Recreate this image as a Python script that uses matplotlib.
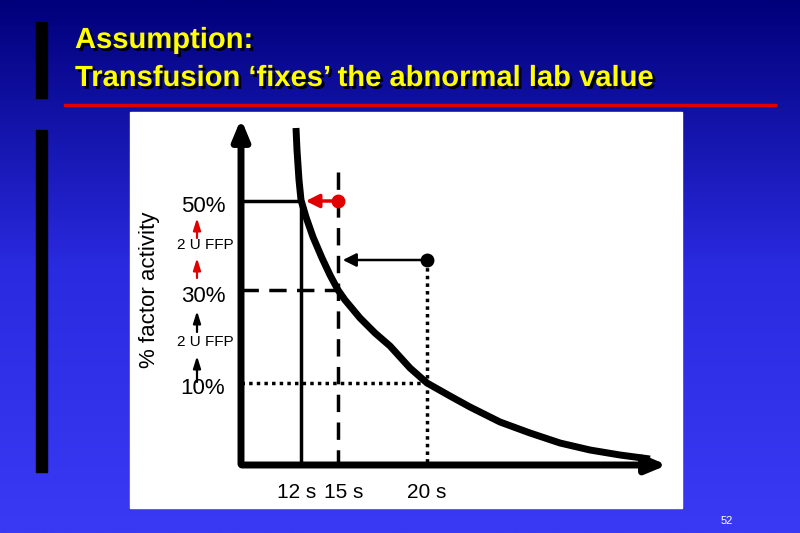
import numpy as np
import matplotlib
matplotlib.use("Agg")
import matplotlib.pyplot as plt
from matplotlib import patheffects as pe
from matplotlib.colors import LinearSegmentedColormap

plt.rcParams['font.family'] = ['Liberation Sans', 'DejaVu Sans']

title_lines = ["Assumption:", "Transfusion \u2018fixes\u2019 the abnormal lab value"]
# curve points (pixel coordinates)
curve_x = [296, 297, 299, 301, 306, 313, 322, 330, 338, 345, 360, 375, 390, 410, 427, 450, 470, 500, 530, 560, 590, 620, 650]
curve_y = [128, 150, 180, 200, 217, 237, 258, 275, 290, 300, 318, 333, 346, 368, 383, 396, 407, 422, 433, 443, 450, 455, 459]
tick_x = [301, 338, 427]
tick_labels = ["12 s", "15 s", "20 s"]
level_y = [201, 290, 383]
level_labels = ["50%", "30%", "10%"]

fig = plt.figure(figsize=(8, 5.33), dpi=100)
ax = fig.add_axes([0, 0, 1, 1])
ax.set_xlim(0, 800); ax.set_ylim(533, 0); ax.axis('off')

grad = np.linspace(0, 1, 256)[:, None]
cm = LinearSegmentedColormap.from_list('bg', ['#00007a', '#2a2ae0', '#3a3af5'])
ax.imshow(grad, extent=[0, 800, 533, 0], cmap=cm, aspect='auto', zorder=0)

ax.add_patch(plt.Rectangle((36, 22), 11, 76, color='black', zorder=1))
ax.add_patch(plt.Rectangle((36, 130), 11, 342, color='black', zorder=1))
ax.plot([65, 775], [105, 105], color='#e00000', lw=2.5, zorder=1)

sh = [pe.withSimplePatchShadow(offset=(2, -2), shadow_rgbFace='black', alpha=1)]
ax.text(75, 40, title_lines[0], color='#ffff00', fontsize=21, fontweight='bold', va='center', path_effects=sh, zorder=3)
ax.text(75, 78, title_lines[1], color='#ffff00', fontsize=21, fontweight='bold', va='center', path_effects=sh, zorder=3)
ax.text(727, 521, "52", color='white', fontsize=8, ha='center', va='center')

ax.add_patch(plt.Rectangle((130, 112), 552, 396, color='white', zorder=1))

ax.annotate('', xy=(241, 116), xytext=(241, 467), arrowprops=dict(arrowstyle='-|>,head_length=1.2,head_width=0.5', color='black', lw=5), zorder=3)
ax.annotate('', xy=(670, 465), xytext=(239, 465), arrowprops=dict(arrowstyle='-|>,head_length=1.2,head_width=0.5', color='black', lw=5), zorder=3)

ax.plot(curve_x, curve_y, color='black', lw=5, solid_capstyle='butt', solid_joinstyle='round', zorder=3)

ax.plot([241, tick_x[0]], [level_y[0]] * 2, color='black', lw=2.5, zorder=2)
ax.plot([tick_x[0]] * 2, [level_y[0], 465], color='black', lw=2.5, zorder=2)
ax.plot([241, tick_x[1]], [level_y[1]] * 2, color='black', lw=2.5, ls=(0, (5, 3)), zorder=2)
ax.plot([tick_x[1]] * 2, [172, 465], color='black', lw=2.5, ls=(0, (5, 3)), zorder=2)
ax.plot([241, tick_x[2]], [level_y[2]] * 2, color='black', lw=2.5, ls=(0, (1, 1.2)), zorder=2)
ax.plot([tick_x[2]] * 2, [260, 465], color='black', lw=2.5, ls=(0, (1, 1.2)), zorder=2)

ax.plot([338], [201], 'o', color='#e00000', ms=9, zorder=4)
ax.annotate('', xy=(303, 201), xytext=(336, 201), arrowprops=dict(arrowstyle='-|>,head_length=0.8,head_width=0.4', color='#e00000', lw=2.5), zorder=4)
ax.plot([427], [260], 'o', color='black', ms=9, zorder=4)
ax.annotate('', xy=(340, 260), xytext=(425, 260), arrowprops=dict(arrowstyle='-|>,head_length=0.8,head_width=0.4', color='black', lw=1.8), zorder=4)

for y, l in zip(level_y, level_labels):
    ax.text(203, y + 6, l, fontsize=16, ha='center', va='center', zorder=4)
ax.text(205, 245, "2 U FFP", fontsize=11, ha='center', va='center', zorder=4)
ax.text(205, 342, "2 U FFP", fontsize=11, ha='center', va='center', zorder=4)
for (y0, y1, c) in [(238, 218, '#e00000'), (278, 258, '#e00000'), (332, 311, 'black'), (382, 356, 'black')]:
    ax.annotate('', xy=(197, y1), xytext=(197, y0), arrowprops=dict(arrowstyle='-|>,head_length=0.7,head_width=0.22', color=c, lw=1.6, shrinkA=0, shrinkB=0), zorder=4)

ax.text(150, 290, "% factor activity", fontsize=16, rotation=90, ha='center', va='center', zorder=4)
tick_offsets = [-4, 6, 0]
for x, l, o in zip(tick_x, tick_labels, tick_offsets):
    ax.text(x + o, 493, l, fontsize=15, ha='center', va='center', zorder=4)

fig.savefig('out.png', dpi=100)
